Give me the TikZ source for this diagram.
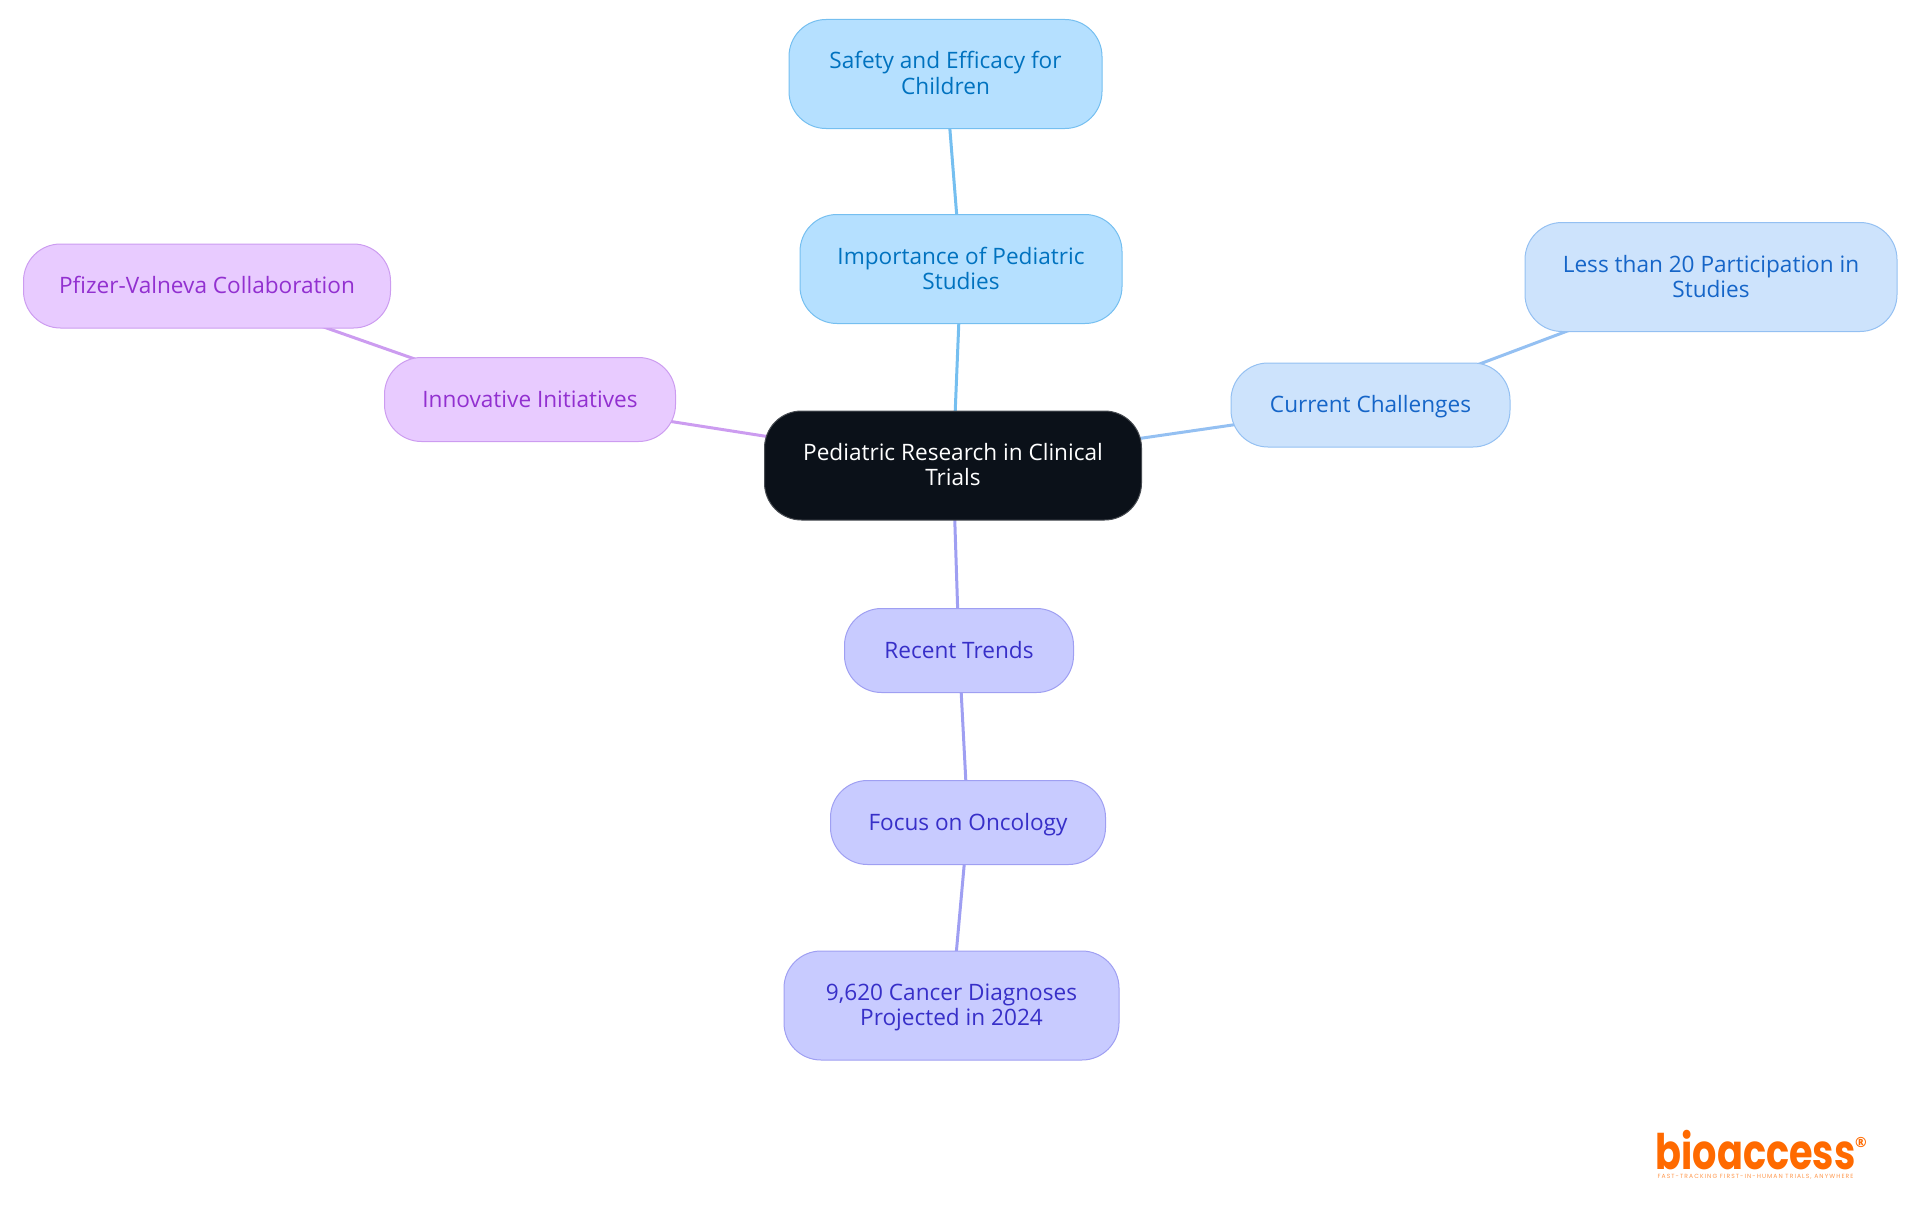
\documentclass[tikz,border=0pt]{standalone}
\usepackage{fontspec}
\setmainfont{Open Sans}
\newfontfamily\logofont{Poppins}[FakeStretch=0.78]
\newfontfamily\tagfont{Poppins}[LetterSpace=18]
\usetikzlibrary{backgrounds}
\definecolor{rootFill}{HTML}{0B1119}
\definecolor{skyFill}{HTML}{B5E0FF}
\definecolor{skyText}{HTML}{0072BF}
\definecolor{skyLine}{HTML}{75BFF0}
\definecolor{blueFill}{HTML}{CDE3FC}
\definecolor{blueText}{HTML}{1565C8}
\definecolor{blueLine}{HTML}{94C0F2}
\definecolor{indigoFill}{HTML}{C8CBFF}
\definecolor{indigoText}{HTML}{372FC8}
\definecolor{indigoLine}{HTML}{9F9FF2}
\definecolor{purpleFill}{HTML}{E8CBFF}
\definecolor{purpleText}{HTML}{9230D0}
\definecolor{purpleLine}{HTML}{CC9CF0}
\definecolor{logoOrange}{HTML}{FF6A00}
\newcommand{\myTxt}[1]{\rule{0pt}{22.5pt}#1\strut}

\begin{document}
\begin{tikzpicture}[x=1pt,y=-1pt]
  \tikzstyle{myBox}=[rounded corners=37pt, draw, line width=1pt, align=center,
     inner sep=0pt, font=\fontsize{22.6}{25}\selectfont]
  \tikzstyle{myRoot}=[myBox, fill=rootFill, draw=rootFill!75!white, text=white]
  \tikzstyle{mySky}=[myBox, fill=skyFill, draw=skyLine, text=skyText]
  \tikzstyle{myBlue}=[myBox, fill=blueFill, draw=blueLine, text=blueText]
  \tikzstyle{myIndigo}=[myBox, fill=indigoFill, draw=indigoLine, text=indigoText]
  \tikzstyle{myPurple}=[myBox, fill=purpleFill, draw=purpleLine, text=purpleText]
  \tikzstyle{myLink}=[line width=3pt]

  \useasboundingbox (0,0) rectangle (1920,1215);

  \node[myRoot, minimum width=377pt, minimum height=109pt] (root) at (953,465.5) {\myTxt{Pediatric Research in Clinical\\Trials}};

  \node[mySky, minimum width=313pt, minimum height=109pt] (safety) at (945.5,74) {\myTxt{Safety and Efficacy for\\Children}};
  \node[mySky, minimum width=322pt, minimum height=109pt] (importance) at (961,269) {\myTxt{Importance of Pediatric\\Studies}};

  \node[myBlue, minimum width=279pt, minimum height=84pt] (current) at (1370.5,405) {\myTxt{Current Challenges}};
  \node[myBlue, minimum width=372pt, minimum height=109pt] (less) at (1711,277) {\myTxt{Less than 20 Participation in\\Studies}};

  \node[myPurple, minimum width=291pt, minimum height=84pt] (innovative) at (530,399.5) {\myTxt{Innovative Initiatives}};
  \node[myPurple, minimum width=367pt, minimum height=84pt] (pfizer) at (207,286) {\myTxt{Pfizer-Valneva Collaboration}};

  \node[myIndigo, minimum width=229pt, minimum height=84pt] (recent) at (959,650.5) {\myTxt{Recent Trends}};
  \node[myIndigo, minimum width=275pt, minimum height=84pt] (focus) at (968,822.5) {\myTxt{Focus on Oncology}};
  \node[myIndigo, minimum width=335pt, minimum height=109pt] (cancer) at (951.5,1005.5) {\myTxt{9,620 Cancer Diagnoses\\Projected in 2024}};

  \begin{pgfonlayer}{background}
    \draw[myLink, skyLine] (root.center) -- (importance.center);
    \draw[myLink, skyLine] (importance.center) -- (safety.center);
    \draw[myLink, blueLine] (root.center) -- (current.center);
    \draw[myLink, blueLine] (current.center) -- (less.center);
    \draw[myLink, purpleLine] (root.center) -- (innovative.center);
    \draw[myLink, purpleLine] (innovative.center) -- (pfizer.center);
    \draw[myLink, indigoLine] (root.center) -- (recent.center);
    \draw[myLink, indigoLine] (recent.center) -- (focus.center);
    \draw[myLink, indigoLine] (focus.center) -- (cancer.center);
  \end{pgfonlayer}

  % logo
  \node[inner sep=0pt, anchor=base, text=logoOrange, font=\logofont\bfseries\fontsize{49}{49}\selectfont] (logo) at (1755.5,1169) {bioaccess};
  \node[inner sep=0pt, text=logoOrange, font=\bfseries\fontsize{14}{14}\selectfont] (logoMark) at (1861,1142) {\textregistered};
  \node[inner sep=0pt, text=logoOrange!70!white, font=\tagfont\fontsize{6}{7}\selectfont] (logoTag) at (1755.5,1177) {FAST-TRACKING FIRST-IN-HUMAN TRIALS, ANYWHERE};
\end{tikzpicture}
\end{document}
